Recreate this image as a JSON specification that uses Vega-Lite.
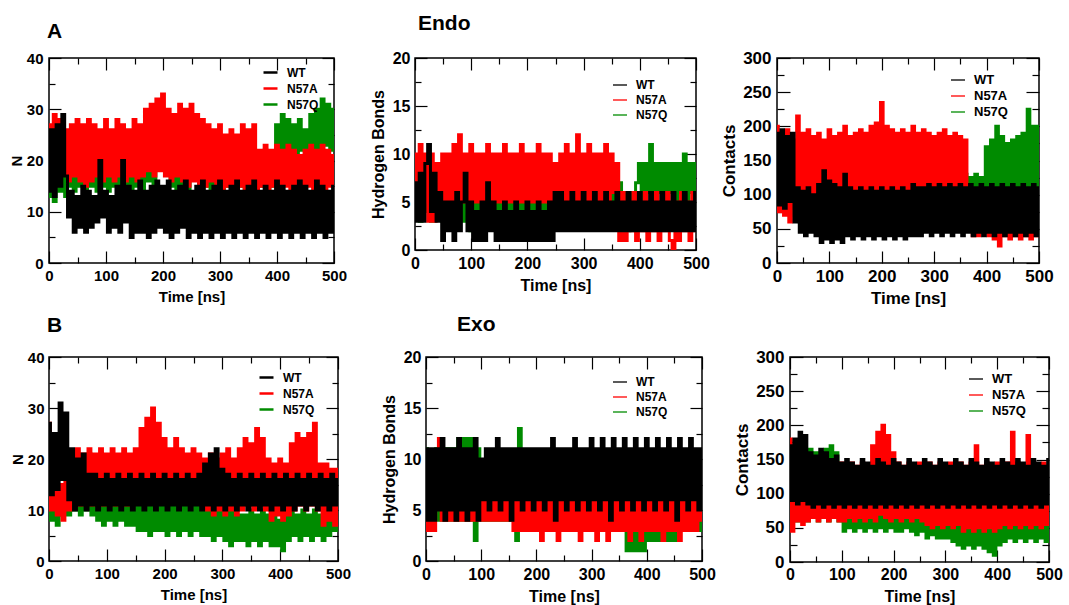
{
"$schema":"https://vega.github.io/schema/vega-lite/v6.json",
"padding":{"left":8,"top":12,"right":8,"bottom":1},
"spacing":6,
"resolve":{"scale":{"color":"independent"}},
"config":{
 "view":{"stroke":"#000","strokeWidth":1.5},
 "font":"Liberation Sans",
 "axis":{"domain":false,"grid":false,"tickColor":"#000","tickWidth":1.2,"labelFont":"Liberation Sans","labelFontSize":15,"labelFontWeight":"bold","labelColor":"#000","titleFont":"Liberation Sans","titleFontSize":15,"titleFontWeight":"bold","titleColor":"#000","labelFlush":false,"labelOverlap":false,"titlePadding":2},
 "axisX":{"titlePadding":0},
 "legend":{"orient":"none","symbolType":"stroke","symbolSize":196,"labelFont":"Liberation Sans","labelFontSize":12,"labelFontWeight":"bold","labelColor":"#000","labelOffset":8,"rowPadding":1,"padding":0},
 "title":{"font":"Liberation Sans","fontWeight":"bold","color":"#000","fontSize":21,"anchor":"start","frame":"group"}
},
"vconcat":[
{"hconcat":[
{"width":285,"height":205,"title":{"text":"A","dx":-2,"offset":9},"data":{"name":"p1"},
 "transform":[{"fold":["q","a","w"],"as":["s","v"]}],
 "layer":[
  {"mark":{"type":"line","strokeWidth":3,"interpolate":"step","clip":true},
   "encoding":{
    "x":{"field":"t","type":"quantitative","scale":{"domain":[0,500]},"axis":{"title":"Time [ns]","values":[0,50,100,150,200,250,300,350,400,450,500],"labelExpr":"datum.value % 100 === 0 ? datum.label : ''","tickSize":{"condition":{"test":"datum.value % 100 === 0","value":-12},"value":-6},"labelPadding":17}},
    "y":{"field":"v","type":"quantitative","scale":{"domain":[0,40]},"axis":{"title":"N","values":[0,5,10,15,20,25,30,35,40],"labelExpr":"datum.value % 10 === 0 ? datum.label : ''","tickSize":{"condition":{"test":"datum.value % 10 === 0","value":-12},"value":-6},"labelPadding":18}},
    "color":{"field":"s","type":"nominal","scale":{"domain":["w","a","q"],"range":["#000000","#ff0000","#008b00"]},"legend":{"title":null,"legendX":213,"legendY":6,"symbolStrokeWidth":2.5,"labelExpr":"datum.label == 'w' ? 'WT' : datum.label == 'a' ? 'N57A' : 'N57Q'"}}}},
  {"mark":{"type":"point","opacity":0},"transform":[{"filter":"datum.t == 0"}],
   "encoding":{
    "x":{"field":"t","type":"quantitative","scale":{"domain":[0,500]},"axis":{"orient":"top","labels":false,"title":null,"values":[0,50,100,150,200,250,300,350,400,450,500],"tickSize":{"condition":{"test":"datum.value % 100 === 0","value":-12},"value":-6}}},
    "y":{"field":"v","type":"quantitative","scale":{"domain":[0,40]},"axis":{"orient":"right","labels":false,"title":null,"values":[0,5,10,15,20,25,30,35,40],"tickSize":{"condition":{"test":"datum.value % 10 === 0","value":-12},"value":-6}}}}}
 ],
 "resolve":{"axis":{"x":"independent","y":"independent"}}},
{"width":281,"height":192,"title":{"text":"Endo","dx":3,"offset":16},"data":{"name":"p2"},
 "transform":[{"fold":["q","a","w"],"as":["s","v"]}],
 "layer":[
  {"mark":{"type":"line","strokeWidth":3,"interpolate":"step","clip":true},
   "encoding":{
    "x":{"field":"t","type":"quantitative","scale":{"domain":[0,500]},"axis":{"title":"Time [ns]","labelFontSize":16,"titleFontSize":16,"values":[0,50,100,150,200,250,300,350,400,450,500],"labelExpr":"datum.value % 100 === 0 ? datum.label : ''","tickSize":{"condition":{"test":"datum.value % 100 === 0","value":-12},"value":-6},"labelPadding":17}},
    "y":{"field":"v","type":"quantitative","scale":{"domain":[0,20]},"axis":{"title":"Hydrogen Bonds","labelFontSize":16,"titleFontSize":16,"titlePadding":6,"values":[0,2.5,5,7.5,10,12.5,15,17.5,20],"labelExpr":"datum.value % 5 === 0 ? datum.label : ''","tickSize":{"condition":{"test":"datum.value % 5 === 0","value":-12},"value":-6},"labelPadding":17}},
    "color":{"field":"s","type":"nominal","scale":{"domain":["w","a","q"],"range":["#000000","#ff0000","#008b00"]},"legend":{"title":null,"legendX":197,"legendY":19,"symbolStrokeWidth":1.3,"labelExpr":"datum.label == 'w' ? 'WT' : datum.label == 'a' ? 'N57A' : 'N57Q'"}}}},
  {"mark":{"type":"point","opacity":0},"transform":[{"filter":"datum.t == 0"}],
   "encoding":{
    "x":{"field":"t","type":"quantitative","scale":{"domain":[0,500]},"axis":{"orient":"top","labels":false,"title":null,"values":[0,50,100,150,200,250,300,350,400,450,500],"tickSize":{"condition":{"test":"datum.value % 100 === 0","value":-12},"value":-6}}},
    "y":{"field":"v","type":"quantitative","scale":{"domain":[0,20]},"axis":{"orient":"right","labels":false,"title":null,"values":[0,2.5,5,7.5,10,12.5,15,17.5,20],"tickSize":{"condition":{"test":"datum.value % 5 === 0","value":-12},"value":-6}}}}}
 ],
 "resolve":{"axis":{"x":"independent","y":"independent"}}},
{"width":262,"height":205,"data":{"name":"p3"},
 "transform":[{"fold":["q","a","w"],"as":["s","v"]}],
 "layer":[
  {"mark":{"type":"line","strokeWidth":3,"interpolate":"step","clip":true},
   "encoding":{
    "x":{"field":"t","type":"quantitative","scale":{"domain":[0,500]},"axis":{"title":"Time [ns]","labelFontSize":17,"titleFontSize":17,"values":[0,50,100,150,200,250,300,350,400,450,500],"labelExpr":"datum.value % 100 === 0 ? datum.label : ''","tickSize":{"condition":{"test":"datum.value % 100 === 0","value":-12},"value":-6},"labelPadding":17}},
    "y":{"field":"v","type":"quantitative","scale":{"domain":[0,300]},"axis":{"title":"Contacts","labelFontSize":17,"titleFontSize":17,"titlePadding":4,"values":[0,25,50,75,100,125,150,175,200,225,250,275,300],"labelExpr":"datum.value % 50 === 0 ? datum.label : ''","tickSize":{"condition":{"test":"datum.value % 50 === 0","value":-13},"value":-7},"labelPadding":19}},
    "color":{"field":"s","type":"nominal","scale":{"domain":["w","a","q"],"range":["#000000","#ff0000","#008b00"]},"legend":{"title":null,"legendX":173,"legendY":14,"symbolStrokeWidth":1.3,"labelFontSize":13,"labelExpr":"datum.label == 'w' ? 'WT' : datum.label == 'a' ? 'N57A' : 'N57Q'"}}}},
  {"mark":{"type":"point","opacity":0},"transform":[{"filter":"datum.t == 0"}],
   "encoding":{
    "x":{"field":"t","type":"quantitative","scale":{"domain":[0,500]},"axis":{"orient":"top","labels":false,"title":null,"values":[0,50,100,150,200,250,300,350,400,450,500],"tickSize":{"condition":{"test":"datum.value % 100 === 0","value":-12},"value":-6}}},
    "y":{"field":"v","type":"quantitative","scale":{"domain":[0,300]},"axis":{"orient":"right","labels":false,"title":null,"values":[0,25,50,75,100,125,150,175,200,225,250,275,300],"tickSize":{"condition":{"test":"datum.value % 50 === 0","value":-13},"value":-7}}}}}
 ],
 "resolve":{"axis":{"x":"independent","y":"independent"}}}
],"spacing":81,"bounds":"flush","resolve":{"scale":{"color":"independent"}}},
{"hconcat":[
{"width":289,"height":204,"title":{"text":"B","dx":-2,"offset":14},"data":{"name":"p4"},
 "transform":[{"fold":["q","a","w"],"as":["s","v"]}],
 "layer":[
  {"mark":{"type":"line","strokeWidth":3,"interpolate":"step","clip":true},
   "encoding":{
    "x":{"field":"t","type":"quantitative","scale":{"domain":[0,500]},"axis":{"title":"Time [ns]","values":[0,50,100,150,200,250,300,350,400,450,500],"labelExpr":"datum.value % 100 === 0 ? datum.label : ''","tickSize":{"condition":{"test":"datum.value % 100 === 0","value":-12},"value":-6},"labelPadding":17}},
    "y":{"field":"v","type":"quantitative","scale":{"domain":[0,40]},"axis":{"title":"N","values":[0,5,10,15,20,25,30,35,40],"labelExpr":"datum.value % 10 === 0 ? datum.label : ''","tickSize":{"condition":{"test":"datum.value % 10 === 0","value":-12},"value":-6},"labelPadding":17}},
    "color":{"field":"s","type":"nominal","scale":{"domain":["w","a","q"],"range":["#000000","#ff0000","#008b00"]},"legend":{"title":null,"legendX":209,"legendY":12,"symbolStrokeWidth":2.5,"labelExpr":"datum.label == 'w' ? 'WT' : datum.label == 'a' ? 'N57A' : 'N57Q'"}}}},
  {"mark":{"type":"point","opacity":0},"transform":[{"filter":"datum.t == 0"}],
   "encoding":{
    "x":{"field":"t","type":"quantitative","scale":{"domain":[0,500]},"axis":{"orient":"top","labels":false,"title":null,"values":[0,50,100,150,200,250,300,350,400,450,500],"tickSize":{"condition":{"test":"datum.value % 100 === 0","value":-12},"value":-6}}},
    "y":{"field":"v","type":"quantitative","scale":{"domain":[0,40]},"axis":{"orient":"right","labels":false,"title":null,"values":[0,5,10,15,20,25,30,35,40],"tickSize":{"condition":{"test":"datum.value % 10 === 0","value":-12},"value":-6}}}}}
 ],
 "resolve":{"axis":{"x":"independent","y":"independent"}}},
{"width":276,"height":204,"title":{"text":"Exo","dx":31,"offset":14},"data":{"name":"p5"},
 "transform":[{"fold":["q","a","w"],"as":["s","v"]}],
 "layer":[
  {"mark":{"type":"line","strokeWidth":3,"interpolate":"step","clip":true},
   "encoding":{
    "x":{"field":"t","type":"quantitative","scale":{"domain":[0,500]},"axis":{"title":"Time [ns]","labelFontSize":16,"titleFontSize":16,"values":[0,50,100,150,200,250,300,350,400,450,500],"labelExpr":"datum.value % 100 === 0 ? datum.label : ''","tickSize":{"condition":{"test":"datum.value % 100 === 0","value":-12},"value":-6},"labelPadding":17}},
    "y":{"field":"v","type":"quantitative","scale":{"domain":[0,20]},"axis":{"title":"Hydrogen Bonds","labelFontSize":16,"titleFontSize":16,"titlePadding":6,"values":[0,2.5,5,7.5,10,12.5,15,17.5,20],"labelExpr":"datum.value % 5 === 0 ? datum.label : ''","tickSize":{"condition":{"test":"datum.value % 5 === 0","value":-12},"value":-6},"labelPadding":17}},
    "color":{"field":"s","type":"nominal","scale":{"domain":["w","a","q"],"range":["#000000","#ff0000","#008b00"]},"legend":{"title":null,"legendX":186,"legendY":17,"symbolStrokeWidth":1.3,"labelExpr":"datum.label == 'w' ? 'WT' : datum.label == 'a' ? 'N57A' : 'N57Q'"}}}},
  {"mark":{"type":"point","opacity":0},"transform":[{"filter":"datum.t == 0"}],
   "encoding":{
    "x":{"field":"t","type":"quantitative","scale":{"domain":[0,500]},"axis":{"orient":"top","labels":false,"title":null,"values":[0,50,100,150,200,250,300,350,400,450,500],"tickSize":{"condition":{"test":"datum.value % 100 === 0","value":-12},"value":-6}}},
    "y":{"field":"v","type":"quantitative","scale":{"domain":[0,20]},"axis":{"orient":"right","labels":false,"title":null,"values":[0,2.5,5,7.5,10,12.5,15,17.5,20],"tickSize":{"condition":{"test":"datum.value % 5 === 0","value":-12},"value":-6}}}}}
 ],
 "resolve":{"axis":{"x":"independent","y":"independent"}}},
{"width":259,"height":205,"data":{"name":"p6"},
 "transform":[{"fold":["q","a","w"],"as":["s","v"]}],
 "layer":[
  {"mark":{"type":"line","strokeWidth":3,"interpolate":"step","clip":true},
   "encoding":{
    "x":{"field":"t","type":"quantitative","scale":{"domain":[0,500]},"axis":{"title":"Time [ns]","labelFontSize":16,"titleFontSize":16,"values":[0,50,100,150,200,250,300,350,400,450,500],"labelExpr":"datum.value % 100 === 0 ? datum.label : ''","tickSize":{"condition":{"test":"datum.value % 100 === 0","value":-12},"value":-6},"labelPadding":16}},
    "y":{"field":"v","type":"quantitative","scale":{"domain":[0,300]},"axis":{"title":"Contacts","labelFontSize":17,"titleFontSize":17,"titlePadding":4,"values":[0,25,50,75,100,125,150,175,200,225,250,275,300],"labelExpr":"datum.value % 50 === 0 ? datum.label : ''","tickSize":{"condition":{"test":"datum.value % 50 === 0","value":-13},"value":-7},"labelPadding":19}},
    "color":{"field":"s","type":"nominal","scale":{"domain":["w","a","q"],"range":["#000000","#ff0000","#008b00"]},"legend":{"title":null,"legendX":178,"legendY":14,"symbolStrokeWidth":1.3,"labelFontSize":13,"labelExpr":"datum.label == 'w' ? 'WT' : datum.label == 'a' ? 'N57A' : 'N57Q'"}}}},
  {"mark":{"type":"point","opacity":0},"transform":[{"filter":"datum.t == 0"}],
   "encoding":{
    "x":{"field":"t","type":"quantitative","scale":{"domain":[0,500]},"axis":{"orient":"top","labels":false,"title":null,"values":[0,50,100,150,200,250,300,350,400,450,500],"tickSize":{"condition":{"test":"datum.value % 100 === 0","value":-12},"value":-6}}},
    "y":{"field":"v","type":"quantitative","scale":{"domain":[0,300]},"axis":{"orient":"right","labels":false,"title":null,"values":[0,25,50,75,100,125,150,175,200,225,250,275,300],"tickSize":{"condition":{"test":"datum.value % 50 === 0","value":-13},"value":-7}}}}}
 ],
 "resolve":{"axis":{"x":"independent","y":"independent"}}}
],"spacing":88,"bounds":"flush","resolve":{"scale":{"color":"independent"}}}
],
"datasets":{
"p1":[
{"t":0,"w":14,"a":27,"q":13},{"t":5,"w":26,"a":16,"q":25},{"t":10,"w":13,"a":29,"q":12},{"t":15,"w":27,"a":17,"q":26},{"t":20,"w":15,"a":28,"q":14},{"t":25,"w":29,"a":18,"q":24},{"t":30,"w":17,"a":26,"q":13},{"t":35,"w":9,"a":16,"q":15},{"t":40,"w":14,"a":27,"q":22},{"t":45,"w":6,"a":17,"q":14},
{"t":50,"w":13,"a":28,"q":21},{"t":55,"w":7,"a":16,"q":15},{"t":60,"w":15,"a":27,"q":20},{"t":65,"w":6,"a":15,"q":14},{"t":70,"w":14,"a":28,"q":22},{"t":75,"w":7,"a":16,"q":15},{"t":80,"w":13,"a":27,"q":21},{"t":85,"w":8,"a":17,"q":14},{"t":90,"w":20,"a":26,"q":22},{"t":95,"w":9,"a":16,"q":15},
{"t":100,"w":14,"a":28,"q":21},{"t":105,"w":6,"a":17,"q":14},{"t":110,"w":13,"a":26,"q":22},{"t":115,"w":7,"a":16,"q":15},{"t":120,"w":15,"a":28,"q":23},{"t":125,"w":6,"a":17,"q":14},{"t":130,"w":20,"a":27,"q":21},{"t":135,"w":8,"a":16,"q":15},{"t":140,"w":15,"a":26,"q":22},{"t":145,"w":5,"a":17,"q":14},
{"t":150,"w":14,"a":28,"q":21},{"t":155,"w":6,"a":16,"q":15},{"t":160,"w":16,"a":27,"q":23},{"t":165,"w":6,"a":17,"q":14},{"t":170,"w":14,"a":30,"q":22},{"t":175,"w":5,"a":18,"q":16},{"t":180,"w":15,"a":31,"q":23},{"t":185,"w":6,"a":17,"q":15},{"t":190,"w":16,"a":32,"q":24},{"t":195,"w":7,"a":18,"q":20},
{"t":200,"w":15,"a":33,"q":22},{"t":205,"w":6,"a":17,"q":19},{"t":210,"w":16,"a":30,"q":23},{"t":215,"w":5,"a":16,"q":15},{"t":220,"w":14,"a":29,"q":22},{"t":225,"w":6,"a":17,"q":14},{"t":230,"w":15,"a":31,"q":23},{"t":235,"w":7,"a":16,"q":15},{"t":240,"w":16,"a":30,"q":22},{"t":245,"w":5,"a":15,"q":14},
{"t":250,"w":14,"a":31,"q":23},{"t":255,"w":6,"a":16,"q":18},{"t":260,"w":15,"a":29,"q":22},{"t":265,"w":5,"a":15,"q":14},{"t":270,"w":16,"a":28,"q":21},{"t":275,"w":6,"a":15,"q":15},{"t":280,"w":14,"a":27,"q":22},{"t":285,"w":5,"a":16,"q":14},{"t":290,"w":15,"a":26,"q":21},{"t":295,"w":6,"a":15,"q":15},
{"t":300,"w":16,"a":27,"q":22},{"t":305,"w":5,"a":14,"q":14},{"t":310,"w":14,"a":25,"q":21},{"t":315,"w":6,"a":15,"q":15},{"t":320,"w":15,"a":26,"q":22},{"t":325,"w":5,"a":14,"q":14},{"t":330,"w":16,"a":25,"q":21},{"t":335,"w":6,"a":15,"q":15},{"t":340,"w":14,"a":27,"q":22},{"t":345,"w":5,"a":14,"q":14},
{"t":350,"w":15,"a":26,"q":21},{"t":355,"w":6,"a":15,"q":15},{"t":360,"w":16,"a":27,"q":22},{"t":365,"w":5,"a":14,"q":14},{"t":370,"w":14,"a":22,"q":21},{"t":375,"w":6,"a":15,"q":15},{"t":380,"w":15,"a":23,"q":22},{"t":385,"w":5,"a":14,"q":14},{"t":390,"w":14,"a":22,"q":21},{"t":395,"w":6,"a":15,"q":15},
{"t":400,"w":16,"a":23,"q":27},{"t":405,"w":5,"a":14,"q":20},{"t":410,"w":15,"a":22,"q":29},{"t":415,"w":6,"a":15,"q":21},{"t":420,"w":14,"a":23,"q":28},{"t":425,"w":5,"a":14,"q":22},{"t":430,"w":15,"a":22,"q":27},{"t":435,"w":6,"a":15,"q":21},{"t":440,"w":16,"a":21,"q":28},{"t":445,"w":5,"a":14,"q":22},
{"t":450,"w":15,"a":22,"q":26},{"t":455,"w":6,"a":15,"q":21},{"t":460,"w":14,"a":23,"q":29},{"t":465,"w":5,"a":14,"q":22},{"t":470,"w":16,"a":22,"q":30},{"t":475,"w":6,"a":15,"q":22},{"t":480,"w":15,"a":23,"q":32},{"t":485,"w":5,"a":14,"q":23},{"t":490,"w":14,"a":22,"q":31},{"t":495,"w":6,"a":15,"q":22},{"t":500,"w":15,"a":21,"q":30}
],
"p2":[
{"t":0,"w":7,"a":10,"q":4},{"t":5,"w":3,"a":4,"q":8},{"t":10,"w":8,"a":11,"q":3},{"t":15,"w":3,"a":5,"q":7},{"t":20,"w":9,"a":10,"q":4},{"t":25,"w":11,"a":3,"q":8},{"t":30,"w":4,"a":10,"q":3},{"t":35,"w":8,"a":3,"q":7},{"t":40,"w":3,"a":9,"q":4},{"t":45,"w":6,"a":4,"q":8},
{"t":50,"w":1,"a":10,"q":3},{"t":55,"w":5,"a":5,"q":7},{"t":60,"w":2,"a":10,"q":3},{"t":65,"w":5,"a":5,"q":7},{"t":70,"w":1,"a":11,"q":3},{"t":75,"w":6,"a":5,"q":7},{"t":80,"w":2,"a":12,"q":3},{"t":85,"w":5,"a":5,"q":6},{"t":90,"w":8,"a":10,"q":3},{"t":95,"w":2,"a":5,"q":7},
{"t":100,"w":5,"a":11,"q":2},{"t":105,"w":1,"a":5,"q":6},{"t":110,"w":4,"a":10,"q":3},{"t":115,"w":1,"a":5,"q":7},{"t":120,"w":5,"a":10,"q":3},{"t":125,"w":1,"a":5,"q":6},{"t":130,"w":7,"a":11,"q":3},{"t":135,"w":2,"a":5,"q":7},{"t":140,"w":5,"a":10,"q":3},{"t":145,"w":1,"a":5,"q":6},
{"t":150,"w":4,"a":10,"q":3},{"t":155,"w":1,"a":5,"q":7},{"t":160,"w":5,"a":11,"q":3},{"t":165,"w":1,"a":5,"q":6},{"t":170,"w":4,"a":10,"q":3},{"t":175,"w":1,"a":5,"q":7},{"t":180,"w":5,"a":10,"q":3},{"t":185,"w":1,"a":5,"q":6},{"t":190,"w":4,"a":11,"q":3},{"t":195,"w":1,"a":5,"q":7},
{"t":200,"w":5,"a":10,"q":3},{"t":205,"w":1,"a":5,"q":6},{"t":210,"w":4,"a":10,"q":3},{"t":215,"w":1,"a":5,"q":7},{"t":220,"w":5,"a":11,"q":3},{"t":225,"w":1,"a":5,"q":6},{"t":230,"w":4,"a":10,"q":3},{"t":235,"w":1,"a":5,"q":7},{"t":240,"w":5,"a":10,"q":3},{"t":245,"w":1,"a":5,"q":6},
{"t":250,"w":6,"a":9,"q":3},{"t":255,"w":2,"a":5,"q":7},{"t":260,"w":6,"a":10,"q":3},{"t":265,"w":2,"a":5,"q":6},{"t":270,"w":5,"a":11,"q":3},{"t":275,"w":2,"a":5,"q":7},{"t":280,"w":6,"a":10,"q":3},{"t":285,"w":2,"a":5,"q":6},{"t":290,"w":5,"a":12,"q":3},{"t":295,"w":2,"a":5,"q":7},
{"t":300,"w":6,"a":10,"q":3},{"t":305,"w":2,"a":5,"q":6},{"t":310,"w":5,"a":11,"q":3},{"t":315,"w":2,"a":5,"q":7},{"t":320,"w":6,"a":10,"q":3},{"t":325,"w":2,"a":5,"q":6},{"t":330,"w":5,"a":10,"q":3},{"t":335,"w":2,"a":5,"q":7},{"t":340,"w":6,"a":11,"q":3},{"t":345,"w":2,"a":5,"q":6},
{"t":350,"w":5,"a":10,"q":3},{"t":355,"w":2,"a":6,"q":7},{"t":360,"w":6,"a":9,"q":3},{"t":365,"w":2,"a":1,"q":7},{"t":370,"w":5,"a":6,"q":2},{"t":375,"w":2,"a":1,"q":6},{"t":380,"w":6,"a":5,"q":2},{"t":385,"w":2,"a":2,"q":6},{"t":390,"w":5,"a":6,"q":3},{"t":395,"w":2,"a":1,"q":7},
{"t":400,"w":6,"a":5,"q":9},{"t":405,"w":2,"a":2,"q":5},{"t":410,"w":5,"a":6,"q":9},{"t":415,"w":2,"a":1,"q":6},{"t":420,"w":6,"a":5,"q":11},{"t":425,"w":2,"a":2,"q":5},{"t":430,"w":5,"a":6,"q":9},{"t":435,"w":2,"a":1,"q":6},{"t":440,"w":6,"a":5,"q":9},{"t":445,"w":2,"a":2,"q":5},
{"t":450,"w":5,"a":6,"q":9},{"t":455,"w":2,"a":1,"q":6},{"t":460,"w":6,"a":0,"q":9},{"t":465,"w":2,"a":5,"q":5},{"t":470,"w":5,"a":1,"q":9},{"t":475,"w":2,"a":6,"q":6},{"t":480,"w":6,"a":2,"q":10},{"t":485,"w":2,"a":5,"q":5},{"t":490,"w":5,"a":1,"q":9},{"t":495,"w":2,"a":6,"q":6},{"t":500,"w":6,"a":2,"q":9}
],
"p3":[
{"t":0,"w":190,"a":200,"q":185},{"t":5,"w":85,"a":75,"q":90},{"t":10,"w":195,"a":190,"q":180},{"t":15,"w":80,"a":70,"q":85},{"t":20,"w":185,"a":195,"q":175},{"t":25,"w":90,"a":60,"q":80},{"t":30,"w":190,"a":180,"q":170},{"t":35,"w":60,"a":95,"q":70},{"t":40,"w":110,"a":215,"q":130},{"t":45,"w":45,"a":100,"q":60},
{"t":50,"w":105,"a":190,"q":125},{"t":55,"w":40,"a":95,"q":65},{"t":60,"w":110,"a":195,"q":130},{"t":65,"w":45,"a":100,"q":60},{"t":70,"w":100,"a":185,"q":125},{"t":75,"w":40,"a":95,"q":65},{"t":80,"w":115,"a":190,"q":130},{"t":85,"w":30,"a":100,"q":55},{"t":90,"w":135,"a":180,"q":125},{"t":95,"w":35,"a":95,"q":65},
{"t":100,"w":120,"a":195,"q":130},{"t":105,"w":30,"a":90,"q":60},{"t":110,"w":115,"a":185,"q":125},{"t":115,"w":35,"a":95,"q":65},{"t":120,"w":110,"a":190,"q":130},{"t":125,"w":30,"a":100,"q":60},{"t":130,"w":130,"a":200,"q":125},{"t":135,"w":40,"a":95,"q":65},{"t":140,"w":110,"a":185,"q":130},{"t":145,"w":35,"a":100,"q":60},
{"t":150,"w":105,"a":190,"q":125},{"t":155,"w":40,"a":95,"q":65},{"t":160,"w":110,"a":195,"q":130},{"t":165,"w":35,"a":90,"q":60},{"t":170,"w":105,"a":190,"q":125},{"t":175,"w":40,"a":100,"q":65},{"t":180,"w":110,"a":200,"q":130},{"t":185,"w":35,"a":95,"q":60},{"t":190,"w":105,"a":205,"q":125},{"t":195,"w":40,"a":100,"q":65},
{"t":200,"w":110,"a":235,"q":130},{"t":205,"w":35,"a":95,"q":60},{"t":210,"w":105,"a":200,"q":125},{"t":215,"w":40,"a":100,"q":65},{"t":220,"w":110,"a":195,"q":130},{"t":225,"w":35,"a":90,"q":60},{"t":230,"w":105,"a":190,"q":125},{"t":235,"w":40,"a":100,"q":65},{"t":240,"w":110,"a":195,"q":130},{"t":245,"w":35,"a":95,"q":60},
{"t":250,"w":105,"a":190,"q":125},{"t":255,"w":40,"a":100,"q":65},{"t":260,"w":115,"a":200,"q":130},{"t":265,"w":40,"a":95,"q":60},{"t":270,"w":110,"a":190,"q":125},{"t":275,"w":40,"a":100,"q":65},{"t":280,"w":110,"a":195,"q":130},{"t":285,"w":45,"a":95,"q":60},{"t":290,"w":115,"a":190,"q":125},{"t":295,"w":40,"a":100,"q":65},
{"t":300,"w":110,"a":185,"q":130},{"t":305,"w":45,"a":95,"q":60},{"t":310,"w":115,"a":190,"q":125},{"t":315,"w":40,"a":100,"q":65},{"t":320,"w":110,"a":195,"q":130},{"t":325,"w":45,"a":95,"q":60},{"t":330,"w":115,"a":185,"q":125},{"t":335,"w":40,"a":100,"q":65},{"t":340,"w":110,"a":190,"q":130},{"t":345,"w":45,"a":95,"q":60},
{"t":350,"w":115,"a":185,"q":125},{"t":355,"w":40,"a":100,"q":65},{"t":360,"w":110,"a":180,"q":130},{"t":365,"w":45,"a":95,"q":60},{"t":370,"w":115,"a":110,"q":125},{"t":375,"w":40,"a":40,"q":55},{"t":380,"w":110,"a":105,"q":130},{"t":385,"w":45,"a":40,"q":50},{"t":390,"w":115,"a":110,"q":125},{"t":395,"w":40,"a":45,"q":60},
{"t":400,"w":110,"a":105,"q":170},{"t":405,"w":45,"a":40,"q":105},{"t":410,"w":115,"a":110,"q":180},{"t":415,"w":40,"a":35,"q":100},{"t":420,"w":110,"a":105,"q":200},{"t":425,"w":45,"a":25,"q":110},{"t":430,"w":115,"a":110,"q":185},{"t":435,"w":40,"a":40,"q":105},{"t":440,"w":110,"a":105,"q":175},{"t":445,"w":45,"a":35,"q":100},
{"t":450,"w":115,"a":110,"q":180},{"t":455,"w":40,"a":40,"q":110},{"t":460,"w":110,"a":105,"q":185},{"t":465,"w":45,"a":35,"q":105},{"t":470,"w":115,"a":110,"q":190},{"t":475,"w":40,"a":40,"q":110},{"t":480,"w":110,"a":105,"q":225},{"t":485,"w":45,"a":35,"q":105},{"t":490,"w":115,"a":110,"q":200},{"t":495,"w":40,"a":40,"q":110},{"t":500,"w":110,"a":105,"q":200}
],
"p4":[
{"t":0,"w":27,"a":27,"q":12},{"t":5,"w":13,"a":10,"q":8},{"t":10,"w":25,"a":16,"q":11},{"t":15,"w":14,"a":9,"q":7},{"t":20,"w":31,"a":15,"q":12},{"t":25,"w":16,"a":8,"q":9},{"t":30,"w":29,"a":16,"q":12},{"t":35,"w":12,"a":10,"q":9},{"t":40,"w":22,"a":21,"q":20},{"t":45,"w":10,"a":12,"q":10},
{"t":50,"w":20,"a":22,"q":21},{"t":55,"w":11,"a":11,"q":9},{"t":60,"w":21,"a":21,"q":20},{"t":65,"w":10,"a":12,"q":10},{"t":70,"w":17,"a":22,"q":21},{"t":75,"w":11,"a":11,"q":9},{"t":80,"w":17,"a":21,"q":12},{"t":85,"w":10,"a":12,"q":8},{"t":90,"w":16,"a":22,"q":12},{"t":95,"w":11,"a":11,"q":7},
{"t":100,"w":17,"a":21,"q":12},{"t":105,"w":10,"a":12,"q":8},{"t":110,"w":16,"a":22,"q":11},{"t":115,"w":11,"a":11,"q":7},{"t":120,"w":17,"a":21,"q":12},{"t":125,"w":10,"a":12,"q":8},{"t":130,"w":16,"a":22,"q":11},{"t":135,"w":11,"a":11,"q":7},{"t":140,"w":17,"a":21,"q":12},{"t":145,"w":10,"a":12,"q":7},
{"t":150,"w":16,"a":22,"q":11},{"t":155,"w":11,"a":13,"q":6},{"t":160,"w":17,"a":26,"q":11},{"t":165,"w":10,"a":15,"q":6},{"t":170,"w":16,"a":28,"q":11},{"t":175,"w":11,"a":16,"q":5},{"t":180,"w":17,"a":30,"q":11},{"t":185,"w":10,"a":15,"q":6},{"t":190,"w":16,"a":27,"q":11},{"t":195,"w":11,"a":14,"q":6},
{"t":200,"w":17,"a":24,"q":11},{"t":205,"w":10,"a":12,"q":5},{"t":210,"w":16,"a":22,"q":11},{"t":215,"w":11,"a":12,"q":6},{"t":220,"w":17,"a":24,"q":11},{"t":225,"w":10,"a":13,"q":5},{"t":230,"w":16,"a":22,"q":11},{"t":235,"w":11,"a":12,"q":6},{"t":240,"w":17,"a":21,"q":11},{"t":245,"w":10,"a":12,"q":5},
{"t":250,"w":16,"a":22,"q":11},{"t":255,"w":11,"a":12,"q":6},{"t":260,"w":17,"a":21,"q":11},{"t":265,"w":10,"a":12,"q":5},{"t":270,"w":19,"a":20,"q":10},{"t":275,"w":11,"a":10,"q":5},{"t":280,"w":21,"a":21,"q":10},{"t":285,"w":10,"a":9,"q":4},{"t":290,"w":22,"a":20,"q":10},{"t":295,"w":11,"a":10,"q":5},
{"t":300,"w":18,"a":21,"q":10},{"t":305,"w":10,"a":9,"q":4},{"t":310,"w":17,"a":22,"q":10},{"t":315,"w":11,"a":10,"q":3},{"t":320,"w":16,"a":20,"q":10},{"t":325,"w":10,"a":9,"q":4},{"t":330,"w":17,"a":22,"q":9},{"t":335,"w":11,"a":10,"q":4},{"t":340,"w":16,"a":24,"q":9},{"t":345,"w":10,"a":11,"q":3},
{"t":350,"w":17,"a":23,"q":10},{"t":355,"w":11,"a":10,"q":4},{"t":360,"w":16,"a":26,"q":9},{"t":365,"w":10,"a":11,"q":3},{"t":370,"w":17,"a":24,"q":10},{"t":375,"w":11,"a":10,"q":4},{"t":380,"w":16,"a":20,"q":9},{"t":385,"w":10,"a":8,"q":3},{"t":390,"w":17,"a":19,"q":9},{"t":395,"w":11,"a":9,"q":3},
{"t":400,"w":16,"a":20,"q":8},{"t":405,"w":10,"a":8,"q":2},{"t":410,"w":17,"a":19,"q":9},{"t":415,"w":11,"a":9,"q":4},{"t":420,"w":16,"a":23,"q":10},{"t":425,"w":10,"a":10,"q":5},{"t":430,"w":17,"a":25,"q":9},{"t":435,"w":11,"a":11,"q":4},{"t":440,"w":16,"a":24,"q":10},{"t":445,"w":10,"a":10,"q":5},
{"t":450,"w":17,"a":25,"q":9},{"t":455,"w":11,"a":11,"q":4},{"t":460,"w":16,"a":27,"q":10},{"t":465,"w":10,"a":10,"q":5},{"t":470,"w":17,"a":19,"q":9},{"t":475,"w":11,"a":7,"q":4},{"t":480,"w":16,"a":19,"q":10},{"t":485,"w":10,"a":8,"q":5},{"t":490,"w":17,"a":18,"q":11},{"t":495,"w":11,"a":7,"q":6},{"t":500,"w":16,"a":18,"q":10}
],
"p5":[
{"t":0,"w":11,"a":10,"q":11},{"t":5,"w":4,"a":3,"q":4},{"t":10,"w":11,"a":8,"q":10},{"t":15,"w":4,"a":3,"q":4},{"t":20,"w":11,"a":9,"q":11},{"t":25,"w":5,"a":12,"q":4},{"t":30,"w":12,"a":4,"q":11},{"t":35,"w":4,"a":6,"q":4},{"t":40,"w":11,"a":4,"q":11},{"t":45,"w":5,"a":6,"q":4},
{"t":50,"w":11,"a":4,"q":11},{"t":55,"w":4,"a":7,"q":4},{"t":60,"w":12,"a":4,"q":12},{"t":65,"w":5,"a":6,"q":4},{"t":70,"w":11,"a":4,"q":12},{"t":75,"w":4,"a":6,"q":4},{"t":80,"w":11,"a":4,"q":12},{"t":85,"w":5,"a":7,"q":4},{"t":90,"w":12,"a":4,"q":2},{"t":95,"w":4,"a":6,"q":11},
{"t":100,"w":10,"a":4,"q":6},{"t":105,"w":6,"a":6,"q":4},{"t":110,"w":11,"a":4,"q":6},{"t":115,"w":5,"a":7,"q":4},{"t":120,"w":11,"a":4,"q":6},{"t":125,"w":6,"a":6,"q":4},{"t":130,"w":12,"a":4,"q":6},{"t":135,"w":5,"a":6,"q":4},{"t":140,"w":11,"a":4,"q":6},{"t":145,"w":6,"a":6,"q":4},
{"t":150,"w":11,"a":4,"q":6},{"t":155,"w":4,"a":6,"q":4},{"t":160,"w":11,"a":3,"q":6},{"t":165,"w":6,"a":6,"q":2},{"t":170,"w":11,"a":3,"q":13},{"t":175,"w":5,"a":6,"q":4},{"t":180,"w":11,"a":3,"q":6},{"t":185,"w":6,"a":7,"q":4},{"t":190,"w":11,"a":3,"q":6},{"t":195,"w":5,"a":6,"q":4},
{"t":200,"w":11,"a":3,"q":6},{"t":205,"w":6,"a":6,"q":4},{"t":210,"w":11,"a":2,"q":6},{"t":215,"w":5,"a":6,"q":4},{"t":220,"w":11,"a":3,"q":5},{"t":225,"w":6,"a":6,"q":3},{"t":230,"w":12,"a":3,"q":5},{"t":235,"w":4,"a":6,"q":3},{"t":240,"w":11,"a":2,"q":5},{"t":245,"w":6,"a":7,"q":3},
{"t":250,"w":11,"a":3,"q":5},{"t":255,"w":5,"a":6,"q":3},{"t":260,"w":11,"a":3,"q":5},{"t":265,"w":6,"a":6,"q":4},{"t":270,"w":12,"a":3,"q":6},{"t":275,"w":5,"a":6,"q":4},{"t":280,"w":11,"a":2,"q":6},{"t":285,"w":6,"a":7,"q":4},{"t":290,"w":11,"a":3,"q":5},{"t":295,"w":5,"a":6,"q":3},
{"t":300,"w":12,"a":3,"q":5},{"t":305,"w":6,"a":6,"q":3},{"t":310,"w":11,"a":2,"q":5},{"t":315,"w":5,"a":6,"q":3},{"t":320,"w":12,"a":3,"q":5},{"t":325,"w":6,"a":7,"q":3},{"t":330,"w":11,"a":2,"q":5},{"t":335,"w":4,"a":6,"q":3},{"t":340,"w":12,"a":3,"q":5},{"t":345,"w":6,"a":6,"q":3},
{"t":350,"w":11,"a":3,"q":5},{"t":355,"w":5,"a":6,"q":3},{"t":360,"w":12,"a":3,"q":3},{"t":365,"w":6,"a":6,"q":1},{"t":370,"w":11,"a":2,"q":3},{"t":375,"w":5,"a":7,"q":1},{"t":380,"w":12,"a":3,"q":3},{"t":385,"w":6,"a":6,"q":1},{"t":390,"w":11,"a":2,"q":3},{"t":395,"w":5,"a":6,"q":1},
{"t":400,"w":12,"a":3,"q":3},{"t":405,"w":6,"a":6,"q":2},{"t":410,"w":11,"a":3,"q":5},{"t":415,"w":5,"a":6,"q":2},{"t":420,"w":12,"a":3,"q":5},{"t":425,"w":6,"a":7,"q":2},{"t":430,"w":11,"a":2,"q":5},{"t":435,"w":5,"a":6,"q":2},{"t":440,"w":12,"a":3,"q":5},{"t":445,"w":6,"a":6,"q":2},
{"t":450,"w":11,"a":3,"q":5},{"t":455,"w":4,"a":6,"q":2},{"t":460,"w":12,"a":2,"q":5},{"t":465,"w":6,"a":6,"q":3},{"t":470,"w":11,"a":3,"q":5},{"t":475,"w":5,"a":7,"q":3},{"t":480,"w":12,"a":3,"q":5},{"t":485,"w":6,"a":6,"q":3},{"t":490,"w":11,"a":3,"q":5},{"t":495,"w":5,"a":6,"q":3},{"t":500,"w":11,"a":4,"q":5}
],
"p6":[
{"t":0,"w":170,"a":180,"q":150},{"t":5,"w":90,"a":45,"q":65},{"t":10,"w":180,"a":150,"q":160},{"t":15,"w":85,"a":60,"q":60},{"t":20,"w":190,"a":145,"q":155},{"t":25,"w":90,"a":55,"q":65},{"t":30,"w":185,"a":150,"q":160},{"t":35,"w":85,"a":60,"q":60},{"t":40,"w":160,"a":145,"q":165},{"t":45,"w":80,"a":65,"q":65},
{"t":50,"w":155,"a":140,"q":160},{"t":55,"w":85,"a":60,"q":60},{"t":60,"w":165,"a":145,"q":160},{"t":65,"w":80,"a":65,"q":65},{"t":70,"w":160,"a":140,"q":165},{"t":75,"w":85,"a":60,"q":60},{"t":80,"w":150,"a":145,"q":170},{"t":85,"w":80,"a":65,"q":65},{"t":90,"w":155,"a":140,"q":160},{"t":95,"w":85,"a":60,"q":60},
{"t":100,"w":145,"a":145,"q":90},{"t":105,"w":80,"a":60,"q":45},{"t":110,"w":150,"a":140,"q":85},{"t":115,"w":85,"a":65,"q":50},{"t":120,"w":145,"a":145,"q":90},{"t":125,"w":80,"a":60,"q":45},{"t":130,"w":140,"a":140,"q":85},{"t":135,"w":85,"a":65,"q":50},{"t":140,"w":150,"a":145,"q":90},{"t":145,"w":80,"a":60,"q":45},
{"t":150,"w":145,"a":140,"q":85},{"t":155,"w":85,"a":65,"q":50},{"t":160,"w":140,"a":170,"q":90},{"t":165,"w":80,"a":60,"q":45},{"t":170,"w":150,"a":190,"q":85},{"t":175,"w":85,"a":70,"q":50},{"t":180,"w":145,"a":200,"q":90},{"t":185,"w":80,"a":65,"q":45},{"t":190,"w":140,"a":185,"q":90},{"t":195,"w":85,"a":60,"q":50},
{"t":200,"w":150,"a":160,"q":85},{"t":205,"w":80,"a":65,"q":45},{"t":210,"w":145,"a":145,"q":80},{"t":215,"w":85,"a":60,"q":45},{"t":220,"w":140,"a":140,"q":80},{"t":225,"w":80,"a":65,"q":50},{"t":230,"w":150,"a":145,"q":80},{"t":235,"w":85,"a":60,"q":45},{"t":240,"w":145,"a":140,"q":75},{"t":245,"w":80,"a":65,"q":40},
{"t":250,"w":140,"a":145,"q":80},{"t":255,"w":85,"a":60,"q":45},{"t":260,"w":150,"a":140,"q":75},{"t":265,"w":80,"a":55,"q":35},{"t":270,"w":145,"a":145,"q":75},{"t":275,"w":85,"a":50,"q":40},{"t":280,"w":140,"a":140,"q":70},{"t":285,"w":80,"a":55,"q":35},{"t":290,"w":150,"a":145,"q":75},{"t":295,"w":85,"a":50,"q":35},
{"t":300,"w":145,"a":140,"q":70},{"t":305,"w":80,"a":55,"q":35},{"t":310,"w":140,"a":145,"q":75},{"t":315,"w":85,"a":50,"q":30},{"t":320,"w":150,"a":140,"q":70},{"t":325,"w":80,"a":55,"q":25},{"t":330,"w":145,"a":145,"q":65},{"t":335,"w":85,"a":45,"q":20},{"t":340,"w":140,"a":140,"q":65},{"t":345,"w":80,"a":50,"q":25},
{"t":350,"w":150,"a":145,"q":60},{"t":355,"w":85,"a":45,"q":20},{"t":360,"w":145,"a":170,"q":65},{"t":365,"w":80,"a":50,"q":25},{"t":370,"w":140,"a":140,"q":60},{"t":375,"w":85,"a":45,"q":20},{"t":380,"w":150,"a":145,"q":65},{"t":385,"w":80,"a":50,"q":15},{"t":390,"w":145,"a":140,"q":60},{"t":395,"w":85,"a":45,"q":10},
{"t":400,"w":140,"a":145,"q":65},{"t":405,"w":80,"a":50,"q":25},{"t":410,"w":150,"a":140,"q":70},{"t":415,"w":85,"a":55,"q":30},{"t":420,"w":145,"a":145,"q":70},{"t":425,"w":80,"a":50,"q":35},{"t":430,"w":140,"a":190,"q":70},{"t":435,"w":85,"a":55,"q":30},{"t":440,"w":150,"a":145,"q":70},{"t":445,"w":80,"a":50,"q":35},
{"t":450,"w":145,"a":140,"q":70},{"t":455,"w":85,"a":55,"q":30},{"t":460,"w":140,"a":185,"q":70},{"t":465,"w":80,"a":50,"q":35},{"t":470,"w":150,"a":145,"q":70},{"t":475,"w":85,"a":55,"q":30},{"t":480,"w":145,"a":140,"q":70},{"t":485,"w":80,"a":50,"q":35},{"t":490,"w":140,"a":145,"q":70},{"t":495,"w":85,"a":55,"q":30},{"t":500,"w":150,"a":140,"q":70}
]
}
}
